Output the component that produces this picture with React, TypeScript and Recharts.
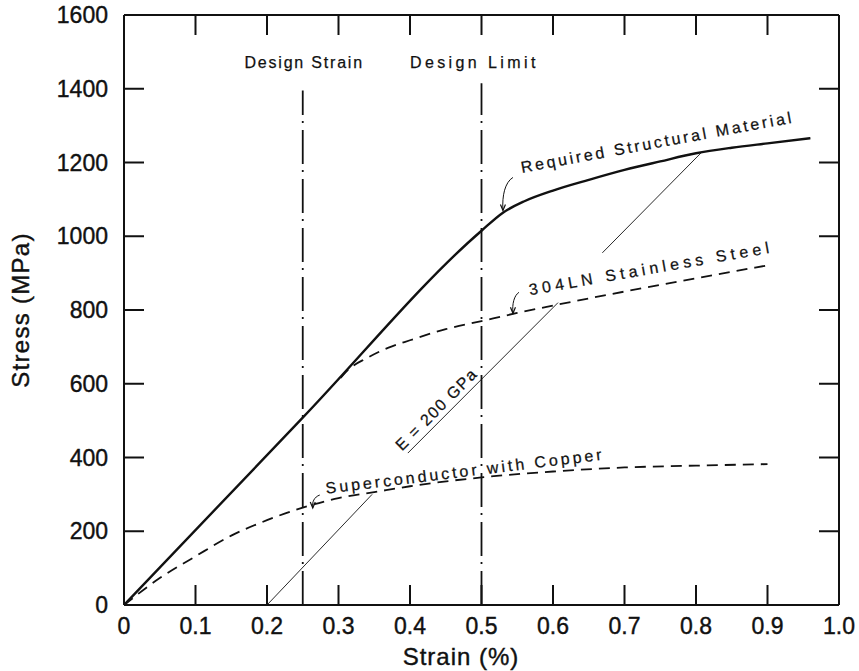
import React from 'react'
import {
  LineChart,
  Line,
  XAxis,
  YAxis,
  ReferenceLine,
  ReferenceDot,
} from 'recharts'

// strain (%) / stress (MPa) pairs for each curve
const requiredStrain = [0, 0.25, 0.5, 0.53, 0.56, 0.6, 0.65, 0.7, 0.75, 0.8, 0.85, 0.9, 0.96]
const requiredStress = [0, 508, 1015, 1064, 1095, 1124, 1153, 1180, 1203, 1225, 1240, 1252, 1266]

// 304LN follows the required curve up to ~0.3 %, drawn only where it separates
const steelStrain = [0.303, 0.313, 0.34, 0.37, 0.4, 0.45, 0.5, 0.55, 0.6, 0.7, 0.8, 0.9]
const steelStress = [616, 637, 670, 698, 718, 748, 770, 792, 812, 850, 886, 921]

const scStrain = [0, 0.05, 0.1, 0.15, 0.2, 0.25, 0.3, 0.35, 0.4, 0.5, 0.6, 0.7, 0.8, 0.9]
const scStress = [0, 73, 132, 188, 230, 264, 290, 306, 322, 346, 362, 373, 378, 382]

// E = 200 GPa offset line, broken where the labels cross it
const modulusStrain = [0.2, 0.347, 0.372, 0.397, 0.607, 0.638, 0.669, 0.808]
const modulusStress: (number | null)[] = [0, 300, null, 412, 820, null, 955, 1228]

const xTicks = [0, 0.1, 0.2, 0.3, 0.4, 0.5, 0.6, 0.7, 0.8, 0.9, 1.0]
const yTicks = [0, 200, 400, 600, 800, 1000, 1200, 1400, 1600]

const designStrain = 0.25
const designStrainTop = 1395
const designLimit = 0.5
const designLimitTop = 1415

const zip = (xs: number[], ys: (number | null)[]) => xs.map((e, i) => ({ e, s: ys[i] }))

const FONT = '"Liberation Sans", Arial, Helvetica, sans-serif'
const INK = '#111'
const TICK_LEN = 20

type Note = { text: string; x: number; y: number; angle: number; size: number; spacing: number }

const notes: Note[] = [
  { text: 'Design Strain', x: 0.252, y: 1471, angle: 0, size: 16, spacing: 1.8 },
  { text: 'Design Limit', x: 0.49, y: 1471, angle: 0, size: 16, spacing: 3.4 },
  { text: 'Required  Structural Material', x: 0.746, y: 1255, angle: -10.5, size: 16, spacing: 2.8 },
  { text: '304LN  Stainless Steel', x: 0.737, y: 913, angle: -10, size: 16, spacing: 4.3 },
  { text: 'Superconductor with Copper', x: 0.477, y: 363, angle: -7, size: 16, spacing: 3 },
  { text: 'E = 200 GPa', x: 0.437, y: 531, angle: -45, size: 16, spacing: 1.5 },
]

// curved pointer arrows: tip position and tail offset in px
const arrows = [
  { x: 0.53, y: 1070, dx: 10, dy: -33 },
  { x: 0.544, y: 791, dx: 6, dy: -21 },
  { x: 0.264, y: 263, dx: 7, dy: -13 },
]

function NoteText(n: Note) {
  return (props: any) => {
    const { cx, cy } = props
    return (
      <text
        x={cx}
        y={cy}
        transform={n.angle ? `rotate(${n.angle} ${cx} ${cy})` : undefined}
        textAnchor="middle"
        dominantBaseline="central"
        fontFamily={FONT}
        fontSize={n.size}
        letterSpacing={n.spacing}
        fill={INK}
        stroke={INK}
        strokeWidth={0.25}
      >
        {n.text}
      </text>
    )
  }
}

function ArrowShape(dx: number, dy: number) {
  return (props: any) => {
    const { cx, cy } = props
    const d = `M${cx + dx},${cy + dy} C${cx + dx * 0.2},${cy + dy * 0.85} ${cx - 1},${cy + dy * 0.45} ${cx},${cy}`
    return (
      <g>
        <path d={d} fill="none" stroke={INK} strokeWidth={1} />
        <path d={`M${cx - 2.5},${cy - 6} L${cx},${cy} L${cx + 2.5},${cy - 6}`} fill="none" stroke={INK} strokeWidth={1.2} />
      </g>
    )
  }
}

// short inward ticks at both ends of a full-height / full-width reference line
const VTicks = (p: any) => {
  const top = Math.min(p.y1, p.y2)
  const bottom = Math.max(p.y1, p.y2)
  return (
    <g stroke={INK} strokeWidth={2}>
      <line x1={p.x1} x2={p.x1} y1={bottom} y2={bottom - TICK_LEN} />
      <line x1={p.x1} x2={p.x1} y1={top} y2={top + TICK_LEN} />
    </g>
  )
}
const HTicks = (p: any) => {
  const left = Math.min(p.x1, p.x2)
  const right = Math.max(p.x1, p.x2)
  return (
    <g stroke={INK} strokeWidth={2}>
      <line y1={p.y1} y2={p.y1} x1={left} x2={left + TICK_LEN} />
      <line y1={p.y1} y2={p.y1} x1={right} x2={right - TICK_LEN} />
    </g>
  )
}

const fmtStrain = (v: number) => (v === 0 ? '0' : v.toFixed(1))

const tickFont = { fontSize: 23, fontFamily: FONT, fill: INK, stroke: INK, strokeWidth: 0.4 }
const frame = { stroke: INK, strokeWidth: 2 }

export default function App() {
  return (
    <div style={{ position: 'absolute', left: 0, top: 0, background: '#fff' }}>
      <LineChart width={859} height={671} margin={{ top: 15, right: 20, left: 0, bottom: 0 }}>
        <XAxis
          dataKey="e"
          type="number"
          domain={[0, 1]}
          ticks={xTicks}
          allowDataOverflow
          height={66}
          tickSize={0}
          tickLine={false}
          tickMargin={13}
          tickFormatter={fmtStrain}
          tick={tickFont}
          axisLine={frame}
          label={{
            content: () => (
              <text x={461} y={665} textAnchor="middle" fontFamily={FONT} fontSize={24} letterSpacing={1}
                fill={INK} stroke={INK} strokeWidth={0.4}>
                Strain (%)
              </text>
            ),
          }}
        />
        <YAxis
          type="number"
          domain={[0, 1600]}
          ticks={yTicks}
          allowDataOverflow
          width={124}
          tickSize={0}
          tickLine={false}
          tickMargin={16}
          tick={tickFont}
          axisLine={frame}
          label={{
            content: (p: any) => {
              const vb = p.viewBox || { y: 15, height: 590 }
              const cy = vb.y + vb.height / 2
              return (
                <text
                  x={20}
                  y={cy}
                  transform={`rotate(-90 20 ${cy})`}
                  textAnchor="middle"
                  dominantBaseline="central"
                  fontFamily={FONT}
                  fontSize={24}
                  letterSpacing={1.3}
                  fill={INK}
                  stroke={INK}
                  strokeWidth={0.4}
                >
                  Stress (MPa)
                </text>
              )
            },
          }}
        />

        {/* top and right sides of the frame */}
        <ReferenceLine y={1600} stroke={INK} strokeWidth={2} />
        <ReferenceLine x={1} stroke={INK} strokeWidth={2} />
        {xTicks.slice(1, -1).map((t) => (
          <ReferenceLine key={'x' + t} x={t} shape={VTicks} />
        ))}
        {yTicks.slice(1, -1).map((t) => (
          <ReferenceLine key={'y' + t} y={t} shape={HTicks} />
        ))}

        <ReferenceLine
          segment={[{ x: designStrain, y: 0 }, { x: designStrain, y: designStrainTop }]}
          stroke={INK}
          strokeWidth={1.8}
          strokeDasharray="34 7 2 6"
        />
        <ReferenceLine
          segment={[{ x: designLimit, y: 0 }, { x: designLimit, y: designLimitTop }]}
          stroke={INK}
          strokeWidth={1.8}
          strokeDasharray="34 7 2 6"
        />

        <Line
          data={zip(modulusStrain, modulusStress)}
          dataKey="s"
          type="linear"
          stroke={INK}
          strokeWidth={0.9}
          dot={false}
          isAnimationActive={false}
        />
        <Line
          data={zip(scStrain, scStress)}
          dataKey="s"
          type="monotone"
          stroke={INK}
          strokeWidth={1.8}
          strokeDasharray="11 7"
          dot={false}
          isAnimationActive={false}
        />
        <Line
          data={zip(steelStrain, steelStress)}
          dataKey="s"
          type="monotone"
          stroke={INK}
          strokeWidth={1.8}
          strokeDasharray="11 7"
          dot={false}
          isAnimationActive={false}
        />
        <Line
          data={zip(requiredStrain, requiredStress)}
          dataKey="s"
          type="monotone"
          stroke={INK}
          strokeWidth={2.4}
          dot={false}
          isAnimationActive={false}
        />

        {notes.map((n) => (
          <ReferenceDot key={n.text} x={n.x} y={n.y} r={0} shape={NoteText(n)} />
        ))}
        {arrows.map((a, i) => (
          <ReferenceDot key={i} x={a.x} y={a.y} r={0} shape={ArrowShape(a.dx, a.dy)} />
        ))}
      </LineChart>
    </div>
  )
}
